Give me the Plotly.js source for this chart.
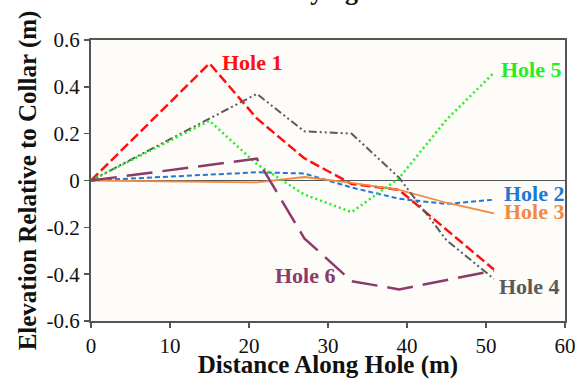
<!DOCTYPE html>
<html>
<head>
<meta charset="utf-8">
<script src="https://cdn.plot.ly/plotly-3.0.1.min.js"></script>
<style>html,body{margin:0;padding:0;background:#fff;}#chart{width:576px;height:379px;}</style>
</head>
<body>
<div id="chart"></div>
<script>
// ---- data ----
const hole1X = [0, 15, 21, 27, 33, 39, 51];
const hole1Y = [0, 0.50, 0.265, 0.095, -0.015, -0.04, -0.38];

const hole2X = [0, 21, 27, 33, 39, 45, 51];
const hole2Y = [0, 0.035, 0.03, -0.03, -0.078, -0.10, -0.082];

const hole3X = [0, 21, 27, 33, 39, 45, 51];
const hole3Y = [0, -0.008, 0.015, -0.01, -0.04, -0.095, -0.14];

const hole4X = [0, 15, 21, 27, 33, 39, 45, 51];
const hole4Y = [0, 0.265, 0.37, 0.21, 0.20, 0.012, -0.255, -0.42];

const hole5X = [0, 15, 21, 27, 33, 39, 45, 51];
const hole5Y = [0, 0.255, 0.07, -0.06, -0.135, 0.01, 0.26, 0.46];

const hole6X = [0, 21, 27, 33, 39, 51];
const hole6Y = [0, 0.093, -0.247, -0.43, -0.465, -0.385];

const holeNames = ["Hole 1", "Hole 2", "Hole 3", "Hole 4", "Hole 5", "Hole 6"];

const xTickVals = [0, 10, 20, 30, 40, 50, 60];
const xTickText = ["0", "10", "20", "30", "40", "50", "60"];
const yTickVals = [0.6, 0.4, 0.2, 0, -0.2, -0.4, -0.6];
const yTickText = ["0.6", "0.4", "0.2", "0", "-0.2", "-0.4", "-0.6"];

// ---- styles ----
const serif = "Liberation Serif, Times New Roman, serif";
const colors = ["#ff1010", "#1f78d4", "#f08a42", "#5a5a5a", "#22ee22", "#8c3a6c"];
const dashes = ["10px,4px", "5px,3px", "solid", "8px,3px,2px,3px,2px,3px", "2px,3px", "26px,10px"];
const widths = [2.5, 2, 1.8, 2, 2.5, 2.5];

const xs = [hole1X, hole2X, hole3X, hole4X, hole5X, hole6X];
const ys = [hole1Y, hole2Y, hole3Y, hole4Y, hole5Y, hole6Y];

const traces = xs.map((x, i) => ({
  x: x, y: ys[i], type: "scatter", mode: "lines", name: holeNames[i],
  line: {color: colors[i], dash: dashes[i], width: widths[i]},
  hoverinfo: "skip"
}));

// label positions (data coords)
const labelPos = [
  {x: 16.3, y: 0.505},
  {x: 52.0, y: -0.054},
  {x: 52.0, y: -0.133},
  {x: 51.4, y: -0.454},
  {x: 51.7, y: 0.472},
  {x: 23.1, y: -0.405}
];

const annotations = labelPos.map((p, i) => ({
  x: p.x, y: p.y, xref: "x", yref: "y", xanchor: "left", yanchor: "middle",
  text: "<b>" + holeNames[i] + "</b>", showarrow: false,
  font: {family: serif, size: 22, color: colors[i]}
}));

const layout = {
  width: 576, height: 379,
  margin: {l: 91, r: 11, t: 40, b: 58},
  paper_bgcolor: "#ffffff",
  plot_bgcolor: "#fdfcf8",
  showlegend: false,
  title: {
    text: "<b>Hole Surveying Results</b>",
    font: {family: serif, size: 26, color: "#111"},
    x: 0.475, xref: "paper", xanchor: "center",
    y: 1, yref: "container", yanchor: "bottom"
  },
  xaxis: {
    range: [0, 60], tickmode: "array", tickvals: xTickVals, ticktext: xTickText,
    showgrid: false, zeroline: false, showline: true, mirror: true,
    linecolor: "#555", linewidth: 2, ticks: "outside", ticklen: 5, tickwidth: 1.5, tickcolor: "#555",
    tickfont: {family: serif, size: 21, color: "#111"},
    title: {text: "<b>Distance Along Hole (m)</b>", font: {family: serif, size: 25, color: "#111"}, standoff: 8}
  },
  yaxis: {
    range: [-0.6, 0.6], tickmode: "array", tickvals: yTickVals, ticktext: yTickText,
    showgrid: false, zeroline: true, zerolinecolor: "#555", zerolinewidth: 1.5,
    showline: true, mirror: true,
    linecolor: "#555", linewidth: 2, ticks: "outside", ticklen: 5, tickwidth: 1.5, tickcolor: "#555",
    tickfont: {family: serif, size: 21, color: "#111"},
    title: {text: "<b>Elevation Relative to Collar (m)</b>", font: {family: serif, size: 25, color: "#111"}, standoff: 3}
  },
  annotations: annotations
};

Plotly.newPlot("chart", traces, layout, {displayModeBar: false, staticPlot: true});
</script>
</body>
</html>
